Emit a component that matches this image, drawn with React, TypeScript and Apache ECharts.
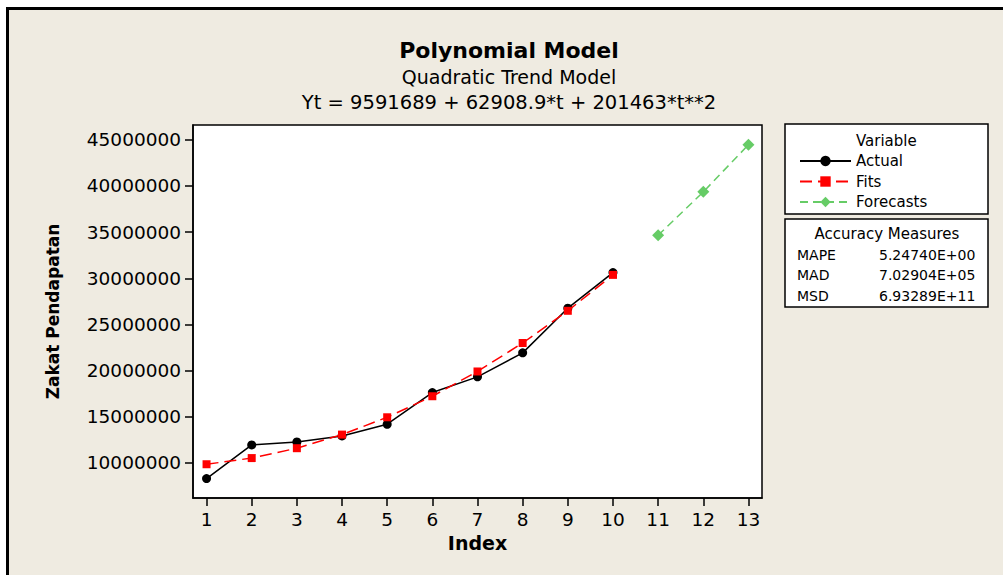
import React, { useEffect, useRef } from "react";
import * as echarts from "echarts";

const xTicks = [1, 2, 3, 4, 5, 6, 7, 8, 9, 10, 11, 12, 13];
const yTicks = [10000000, 15000000, 20000000, 25000000, 30000000, 35000000, 40000000, 45000000];
const actualIndex = [1, 2, 3, 4, 5, 6, 7, 8, 9, 10];
const actualValues = [8300000, 11950000, 12270000, 12920000, 14190000, 17620000, 19320000, 21920000, 26760000, 30620000];
const fitsValues = [9856061, 10523359, 11593583, 13066733, 14942809, 17221810, 19903738, 22988592, 26476372, 30367078];
const forecastIndex = [11, 12, 13];
const forecastValues = [34659710, 39357268, 44456752];
const accuracyLabels = ["MAPE", "MAD", "MSD"];
const accuracyValues = ["5.24740E+00", "7.02904E+05", "6.93289E+11"];

const FONT = "DejaVu Sans";

export default function App() {
  const ref = useRef<HTMLDivElement>(null);

  useEffect(() => {
    if (!ref.current) return;
    const chart = echarts.init(ref.current, null, { renderer: "svg" });

    const pair = (xs: number[], ys: number[]) => xs.map((x, i) => [x, ys[i]]);

    const accTexts: any[] = [];
    const rowY = [255, 275, 296];
    accuracyLabels.forEach((l, i) => {
      accTexts.push({
        type: "text",
        x: 797,
        y: rowY[i],
        style: { text: l, fontFamily: FONT, fontSize: 14, fill: "#000", align: "left", verticalAlign: "middle" },
      });
      accTexts.push({
        type: "text",
        x: 879,
        y: rowY[i],
        style: { text: accuracyValues[i], fontFamily: FONT, fontSize: 14, fill: "#000", align: "left", verticalAlign: "middle" },
      });
    });

    chart.setOption({
      animation: false,
      backgroundColor: "transparent",
      grid: {
        left: 193,
        top: 125,
        right: 1003 - 762,
        bottom: 575 - 498,
        show: true,
        backgroundColor: "#ffffff",
        borderColor: "#000",
        borderWidth: 1.5,
      },
      xAxis: {
        type: "value",
        min: 0.7,
        max: 13.3,
        name: "Index",
        nameLocation: "middle",
        nameGap: 35,
        nameTextStyle: { fontFamily: FONT, fontSize: 19, fontWeight: "bold", color: "#000" },
        axisLine: { show: true, lineStyle: { color: "#000", width: 1.5 } },
        axisTick: { show: true, inside: false, length: 8, lineStyle: { color: "#000", width: 1.5 }, customValues: xTicks },
        axisLabel: { fontFamily: FONT, fontSize: 18.5, color: "#000", margin: 12, customValues: xTicks },
        splitLine: { show: false },
      },
      yAxis: {
        type: "value",
        min: 6200000,
        max: 46600000,
        name: "Zakat Pendapatan",
        nameLocation: "middle",
        nameRotate: 90,
        nameGap: 132,
        nameTextStyle: { fontFamily: FONT, fontSize: 17, fontWeight: "bold", color: "#000" },
        axisLine: { show: true, lineStyle: { color: "#000", width: 1.5 } },
        axisTick: { show: true, inside: false, length: 8, lineStyle: { color: "#000", width: 1.5 }, customValues: yTicks },
        axisLabel: {
          fontFamily: FONT,
          fontSize: 18.5,
          color: "#000",
          margin: 12,
          customValues: yTicks,
          formatter: (v: number) => String(Math.round(v)),
        },
        splitLine: { show: false },
      },
      legend: {
        orient: "vertical",
        left: 794,
        top: 148.5,
        itemWidth: 51,
        itemHeight: 13,
        itemGap: 5.5,
        textStyle: { fontFamily: FONT, fontSize: 15, color: "#000", padding: [0, 0, 0, 0] },
        data: ["Actual", "Fits", "Forecasts"],
        selectedMode: false,
      },
      series: [
        {
          name: "Actual",
          type: "line",
          data: pair(actualIndex, actualValues),
          symbol: "circle",
          symbolSize: 9,
          itemStyle: { color: "#000" },
          lineStyle: { color: "#000", width: 1.5, type: "solid" },
          z: 2,
        },
        {
          name: "Fits",
          type: "line",
          data: pair(actualIndex, fitsValues),
          symbol: "rect",
          symbolSize: 8,
          itemStyle: { color: "#ff0000" },
          lineStyle: { color: "#ff0000", width: 1.5, type: [12, 6] },
          z: 3,
        },
        {
          name: "Forecasts",
          type: "line",
          data: pair(forecastIndex, forecastValues),
          symbol: "diamond",
          symbolSize: 12,
          itemStyle: { color: "#66cc66" },
          lineStyle: { color: "#66cc66", width: 1.5, type: [8, 5] },
          z: 4,
        },
      ],
      graphic: [
        {
          type: "text",
          x: 509,
          y: 50,
          style: { text: "Polynomial Model", fontFamily: FONT, fontSize: 22, fontWeight: "bold", fill: "#000", align: "center", verticalAlign: "middle" },
        },
        {
          type: "text",
          x: 509,
          y: 77,
          style: { text: "Quadratic Trend Model", fontFamily: FONT, fontSize: 19, fill: "#000", align: "center", verticalAlign: "middle" },
        },
        {
          type: "text",
          x: 509,
          y: 102,
          style: { text: "Yt = 9591689 + 62908.9*t + 201463*t**2", fontFamily: FONT, fontSize: 19.5, fill: "#000", align: "center", verticalAlign: "middle" },
        },
        {
          type: "rect",
          shape: { x: 785, y: 124, width: 203, height: 90 },
          style: { fill: "#fff", stroke: "#000", lineWidth: 1.5 },
          z: -1,
        },
        {
          type: "text",
          x: 856,
          y: 141,
          style: { text: "Variable", fontFamily: FONT, fontSize: 15, fill: "#000", align: "left", verticalAlign: "middle" },
        },
        {
          type: "rect",
          shape: { x: 785, y: 219, width: 203, height: 88 },
          style: { fill: "#fff", stroke: "#000", lineWidth: 1.5 },
          z: -1,
        },
        {
          type: "text",
          x: 887,
          y: 234,
          style: { text: "Accuracy Measures", fontFamily: FONT, fontSize: 15, fill: "#000", align: "center", verticalAlign: "middle" },
        },
        ...accTexts,
      ],
    });

    return () => chart.dispose();
  }, []);

  return (
    <div style={{ position: "fixed", left: 0, top: 0, width: 1003, height: 575, background: "#ffffff", overflow: "hidden" }}>
      <div
        style={{
          position: "absolute",
          left: 6,
          top: 7,
          width: 1003,
          height: 575,
          borderLeft: "3px solid #000",
          borderTop: "3px solid #000",
          background: "#efebe1",
          boxSizing: "border-box",
        }}
      />
      <div ref={ref} style={{ position: "absolute", left: 0, top: 0, width: 1003, height: 575 }} />
    </div>
  );
}
